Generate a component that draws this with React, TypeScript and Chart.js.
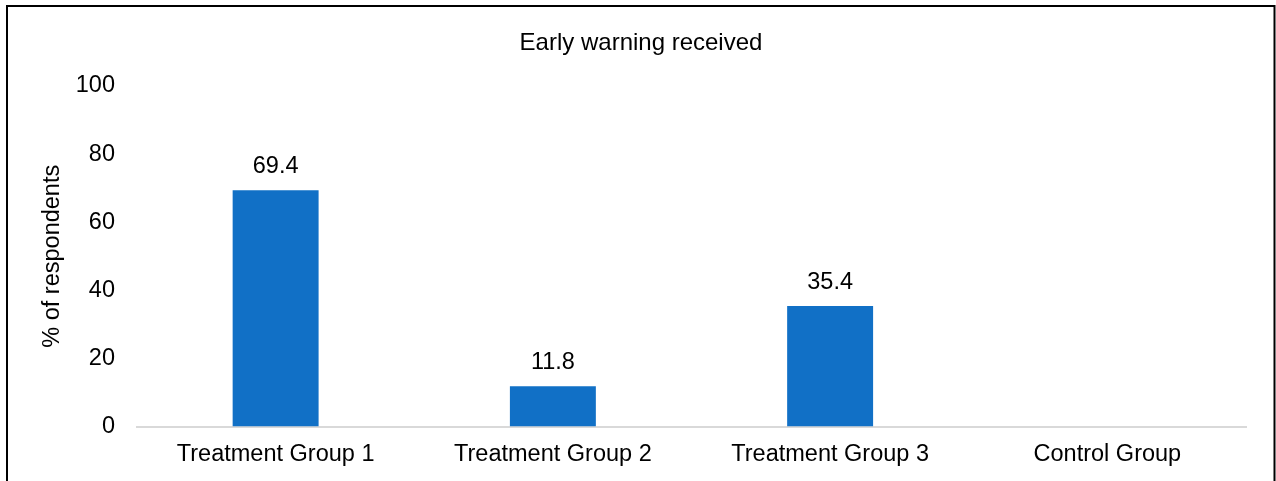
import React, { useEffect, useRef } from "react";
import { Chart, registerables } from "chart.js";

Chart.register(...registerables);

const chartTitle = "Early warning received";
const yAxisTitle = "% of respondents";
const categories = ["Treatment Group 1", "Treatment Group 2", "Treatment Group 3", "Control Group"];
const warningReceived: (number | null)[] = [69.4, 11.8, 35.4, null];
const yTicks = [0, 20, 40, 60, 80, 100];

const FONT_FAMILY = "'Liberation Sans', Arial, sans-serif";
const FONT_SIZE = 23.5;
const TITLE_SIZE = 24;
const BAR_COLOR = "#1170C6";

// Writes each bar's value just above it
const valueLabels = {
  id: "valueLabels",
  afterDatasetsDraw(chart: any) {
    const { ctx } = chart;
    const meta = chart.getDatasetMeta(0);
    const data = chart.data.datasets[0].data;
    ctx.save();
    ctx.font = `${FONT_SIZE}px ${FONT_FAMILY}`;
    ctx.fillStyle = "#000000";
    ctx.textAlign = "center";
    ctx.textBaseline = "alphabetic";
    meta.data.forEach((bar: any, i: number) => {
      const v = data[i];
      if (v === null || v === undefined) return;
      ctx.fillText(Number(v).toFixed(1), bar.x, bar.y - 17);
    });
    ctx.restore();
  },
};

// Black frame along the left, top and right edges
const frame = {
  id: "frame",
  beforeDraw(chart: any) {
    const { ctx, width, height } = chart;
    ctx.save();
    ctx.fillStyle = "#ffffff";
    ctx.fillRect(0, 0, width, height);
    ctx.strokeStyle = "#000000";
    ctx.lineWidth = 2;
    ctx.beginPath();
    ctx.moveTo(7, height + 2);
    ctx.lineTo(7, 6);
    ctx.lineTo(width - 1.5, 6);
    ctx.lineTo(width - 1.5, height + 2);
    ctx.stroke();
    ctx.restore();
  },
};

export default function App() {
  const canvasRef = useRef<HTMLCanvasElement | null>(null);

  useEffect(() => {
    document.body.style.margin = "0";
    const canvas = canvasRef.current;
    if (!canvas) return;
    const chart = new Chart(canvas, {
      type: "bar",
      data: {
        labels: categories,
        datasets: [
          {
            data: warningReceived,
            backgroundColor: BAR_COLOR,
            borderWidth: 0,
            categoryPercentage: 1,
            barPercentage: 0.31,
          },
        ],
      },
      options: {
        responsive: false,
        animation: false,
        devicePixelRatio: 1,
        layout: { padding: { left: 6, right: 0, top: 0, bottom: 0 } },
        plugins: {
          legend: { display: false },
          tooltip: { enabled: false },
          title: {
            display: true,
            text: chartTitle,
            color: "#000000",
            font: { family: FONT_FAMILY, size: TITLE_SIZE, weight: "normal" },
            padding: { top: 28.6, bottom: 28.6 },
          },
        },
        scales: {
          x: {
            grid: { display: false, drawTicks: false },
            border: { display: true, color: "#D9D9D9", width: 2 },
            ticks: {
              color: "#000000",
              font: { family: FONT_FAMILY, size: FONT_SIZE },
              padding: 13.5,
              maxRotation: 0,
              autoSkip: false,
            },
            afterFit: (s: any) => {
              s.height = 54.5;
            },
          },
          y: {
            min: 0,
            max: 100,
            afterBuildTicks: (s: any) => {
              s.ticks = yTicks.map((v) => ({ value: v }));
            },
            grid: { display: false, drawTicks: false },
            border: { display: false },
            ticks: {
              color: "#000000",
              font: { family: FONT_FAMILY, size: FONT_SIZE },
              padding: 22,
            },
            title: {
              display: true,
              text: yAxisTitle,
              color: "#000000",
              font: { family: FONT_FAMILY, size: FONT_SIZE },
              padding: { top: 32.9, bottom: 0 },
            },
            afterFit: (s: any) => {
              s.width = 131;
            },
          },
          yRight: {
            position: "right",
            display: true,
            grid: { display: false, drawTicks: false },
            border: { display: false },
            ticks: { display: false },
            afterFit: (s: any) => {
              s.width = 30;
            },
          },
        },
      },
      plugins: [frame, valueLabels],
    });
    return () => chart.destroy();
  }, []);

  return <canvas ref={canvasRef} width={1276} height={481} style={{ display: "block" }} />;
}
